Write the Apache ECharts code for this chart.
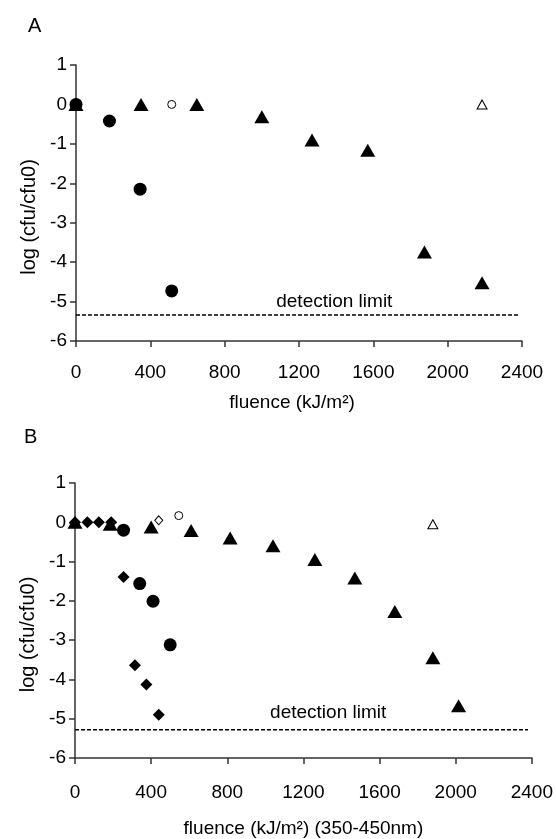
<!DOCTYPE html>
<html>
<head>
<meta charset="utf-8">
<script src="https://cdn.jsdelivr.net/npm/echarts@6/dist/echarts.min.js"></script>
<style>
html,body{margin:0;padding:0;background:#fff;}
#chart{width:556px;height:839px;}
</style>
</head>
<body>
<div id="chart"></div>
<script>
// ---- Data ----
const xTicks = [0, 400, 800, 1200, 1600, 2000, 2400];
const yTicks = [-6, -5, -4, -3, -2, -1, 0, 1];

// Panel A
const triA = [[0,0],[350,0],[650,0],[1000,-0.31],[1270,-0.90],[1570,-1.16],[1875,-3.74],[2185,-4.52]];
const openTriA = [[2185,0]];
const circA = [[0,0],[180,-0.42],[345,-2.15],[515,-4.73]];
const openCircA = [[515,0]];
const detLimitA = [[0,-5.34],[2380,-5.34]];
const detLabelA = [[1390,-5.0]];

// Panel B
const diaB = [[0,0],[65,0],[125,0],[190,0],[255,-1.39],[315,-3.64],[375,-4.13],[440,-4.90]];
const openDiaB = [[440,0.05]];
const circB = [[255,-0.2],[340,-1.56],[410,-2.01],[500,-3.12]];
const openCircB = [[545,0.17]];
const triB = [[0,0],[185,-0.05],[400,-0.12],[610,-0.21],[815,-0.40],[1040,-0.60],[1260,-0.95],[1470,-1.42],[1680,-2.27],[1880,-3.45],[2015,-4.67]];
const openTriB = [[1880,-0.05]];
const detLimitB = [[0,-5.28],[2380,-5.28]];
const detLabelB = [[1330,-4.85]];

const FONT = 'Liberation Sans, Arial, sans-serif';
const TXT = '#000';
const AXC = '#333';

function xAxisCfg(idx, name, gap, margin, pad) {
  return {
    gridIndex: idx, type: 'value', min: xTicks[0], max: xTicks[xTicks.length-1],
    interval: xTicks[1]-xTicks[0],
    name: name, nameLocation: 'middle', nameGap: gap,
    nameTextStyle: {fontFamily: FONT, fontSize: 19, color: TXT, padding: pad},
    axisLine: {show: true, onZero: false, lineStyle: {color: AXC, width: 1.5}},
    axisTick: {show: true, inside: false, length: 6, lineStyle: {color: AXC, width: 1.5}},
    axisLabel: {fontFamily: FONT, fontSize: 19, color: TXT, margin: margin, formatter: v => String(v)},
    splitLine: {show: false}
  };
}
function yAxisCfg(idx) {
  return {
    gridIndex: idx, type: 'value', min: yTicks[0], max: yTicks[yTicks.length-1], interval: 1,
    name: 'log (cfu/cfu0)', nameLocation: 'middle', nameGap: 35, nameRotate: 90,
    nameTextStyle: {fontFamily: FONT, fontSize: 20, color: TXT, padding: [0, 28, 0, 0]},
    axisLine: {show: true, onZero: false, lineStyle: {color: AXC, width: 1.5}},
    axisTick: {show: true, inside: false, length: 6, lineStyle: {color: AXC, width: 1.5}},
    axisLabel: {fontFamily: FONT, fontSize: 19, color: TXT, margin: 9},
    splitLine: {show: false}
  };
}
function filled(idx, data, symbol, size) {
  return {type: 'scatter', xAxisIndex: idx, yAxisIndex: idx, data: data, symbol: symbol,
    symbolSize: size, itemStyle: {color: '#000', opacity: 1}, silent: true, z: 3};
}
function open(idx, data, symbol, size) {
  return {type: 'scatter', xAxisIndex: idx, yAxisIndex: idx, data: data, symbol: symbol,
    symbolSize: size, itemStyle: {color: '#fff', borderColor: '#000', borderWidth: 1, opacity: 1}, silent: true, z: 3};
}
function detLine(idx, data) {
  return {type: 'line', xAxisIndex: idx, yAxisIndex: idx, data: data, symbol: 'none',
    lineStyle: {color: '#000', width: 1.5, type: [4, 2]}, silent: true, z: 2};
}
function detLabel(idx, data) {
  return {type: 'scatter', xAxisIndex: idx, yAxisIndex: idx, data: data, symbolSize: 1,
    itemStyle: {color: 'rgba(0,0,0,0)', opacity: 1},
    label: {show: true, position: 'inside', formatter: 'detection limit', fontFamily: FONT, fontSize: 19,
      color: TXT, opacity: 1, textBorderWidth: 0},
    silent: true, z: 4};
}

const chart = echarts.init(document.getElementById('chart'), null, {renderer: 'canvas'});
chart.setOption({
  animation: false,
  backgroundColor: '#fff',
  title: [
    {text: 'A', left: 23, top: 11, textStyle: {fontFamily: FONT, fontSize: 20, fontWeight: 'normal', color: TXT}},
    {text: 'B', left: 19, top: 422, textStyle: {fontFamily: FONT, fontSize: 20, fontWeight: 'normal', color: TXT}}
  ],
  grid: [
    {left: 76, top: 65, width: 446, height: 276},
    {left: 75, top: 483, width: 457, height: 275}
  ],
  xAxis: [
    xAxisCfg(0, 'fluence (kJ/m²)', 52, 22, [0, 14, 0, 0]),
    xAxisCfg(1, 'fluence (kJ/m²) (350-450nm)', 61, 25, [0, 0, 0, 0])
  ],
  yAxis: [yAxisCfg(0), yAxisCfg(1)],
  series: [
    detLine(0, detLimitA),
    detLabel(0, detLabelA),
    filled(0, circA, 'circle', 13),
    open(0, openCircA, 'circle', 8),
    filled(0, triA, 'triangle', [15, 13]),
    open(0, openTriA, 'triangle', [10, 9]),

    detLine(1, detLimitB),
    detLabel(1, detLabelB),
    filled(1, diaB, 'diamond', [12, 12]),
    open(1, openDiaB, 'diamond', [8, 9]),
    filled(1, circB, 'circle', 13),
    open(1, openCircB, 'circle', 8),
    filled(1, triB, 'triangle', [15, 13]),
    open(1, openTriB, 'triangle', [10, 9])
  ]
});
</script>
</body>
</html>
